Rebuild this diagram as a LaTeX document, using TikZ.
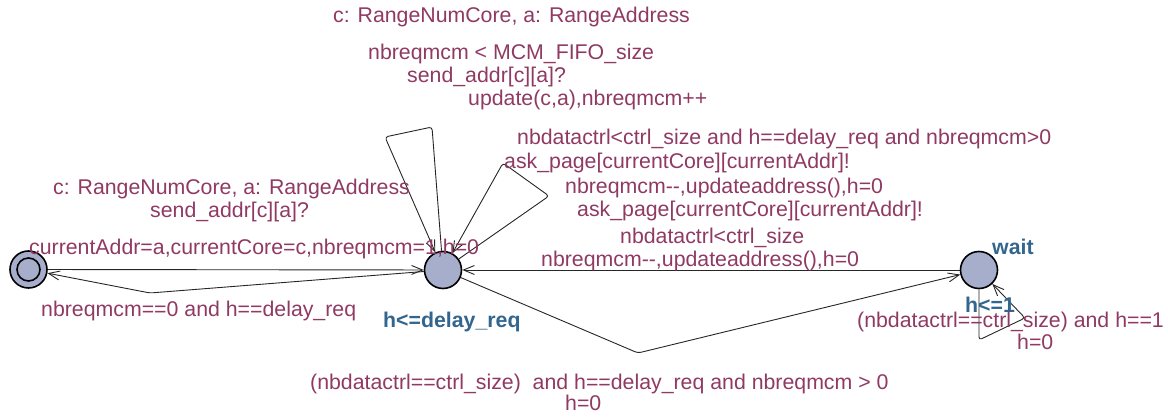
\documentclass[tikz,border=0pt]{standalone}
\usepackage{fontspec}
\setmainfont{Liberation Sans}
\usetikzlibrary{arrows.meta}
\definecolor{lblc}{RGB}{143,57,99}
\definecolor{invc}{RGB}{51,102,143}
\definecolor{locfill}{RGB}{166,174,204}
\begin{document}
\begin{tikzpicture}[x=1pt,y=-1pt,
  loc/.style={circle, draw=black, line width=1.6pt, fill=locfill, minimum size=37pt, inner sep=0pt},
  edge/.style={draw=black!85, line width=0.9pt, rounded corners=3pt, -{Straight Barb[length=11pt,width=9pt]}},
  lbl/.style={anchor=base west, inner sep=0pt, text=lblc, font=\fontsize{21.3}{25}\selectfont},
  inv/.style={lbl, text=invc, font=\fontsize{21.3}{25}\selectfont\bfseries},
]
\useasboundingbox (0,0) rectangle (1168,419);

% locations
\node[loc] (init) at (28.5,269.5) {};
\draw[line width=1.6pt] (init.center) circle[radius=11.5pt];
\node[loc] (req) at (443,270) {};
\node[loc] (wait) at (979,270) {};

% nails
\coordinate (n1) at (150,293);
\coordinate (l1a) at (432,127);
\coordinate (l1b) at (385,137);
\coordinate (l2a) at (549,196);
\coordinate (l2b) at (503,163);
\coordinate (n2) at (638,353);
\coordinate (w1) at (979,340);
\coordinate (w2) at (1025,318);

% transitions
\draw[edge] (init) -- (req);
\draw[edge] (req) -- (n1) -- (init);
\draw[edge] (req) -- (l1a) -- (l1b) -- (req);
\draw[edge] (req) -- (l2a) -- (l2b) -- (req);
\draw[edge] (wait) -- (req);
\draw[edge] (req) -- (n2) -- (wait);
\draw[edge] (wait) -- (w1) -- (w2) -- (wait);

% invariants and names
\node[inv] (invreq) at (383,328) {h<=delay\_req};
\node[inv] (namewait) at (992,255) {wait};
\node[inv] (invwait) at (965,313) {h<=1};

% init -> req
\node[lbl] (s1) at (53,195) {c: RangeNumCore, a: RangeAddress};
\node[lbl] (y1) at (150,218) {send\_addr[c][a]?};
\node[lbl] (u1) at (29,255) {currentAddr=a,currentCore=c,nbreqmcm=1,h=0};
% req -> init
\node[lbl] (g2) at (41,317) {nbreqmcm==0 and h==delay\_req};
% loop 1
\node[lbl] (s3) at (333,23) {c: RangeNumCore, a: RangeAddress};
\node[lbl] (g3) at (368,60) {nbreqmcm < MCM\_FIFO\_size};
\node[lbl] (y3) at (407,83) {send\_addr[c][a]?};
\node[lbl] (u3) at (468,106) {update(c,a),nbreqmcm++};
% loop 2
\node[lbl] (g4) at (517,145) {nbdatactrl<ctrl\_size and h==delay\_req and nbreqmcm>0};
\node[lbl] (y4) at (504,169) {ask\_page[currentCore][currentAddr]!};
\node[lbl] (u4) at (565,194) {nbreqmcm-{}-,updateaddress(),h=0};
% wait -> req
\node[lbl] (y5) at (577,217) {ask\_page[currentCore][currentAddr]!};
\node[lbl] (g5) at (620,244) {nbdatactrl<ctrl\_size};
\node[lbl] (u5) at (541,267) {nbreqmcm-{}-,updateaddress(),h=0};
% wait loop
\node[lbl] (g6) at (857,328) {(nbdatactrl==ctrl\_size) and h==1};
\node[lbl] (u6) at (1017,350) {h=0};
% req -> wait
\node[lbl] (g7) at (310,390) {(nbdatactrl==ctrl\_size)\ \ and h==delay\_req and nbreqmcm > 0};
\node[lbl] (u7) at (565,411) {h=0};
\end{tikzpicture}
\end{document}
